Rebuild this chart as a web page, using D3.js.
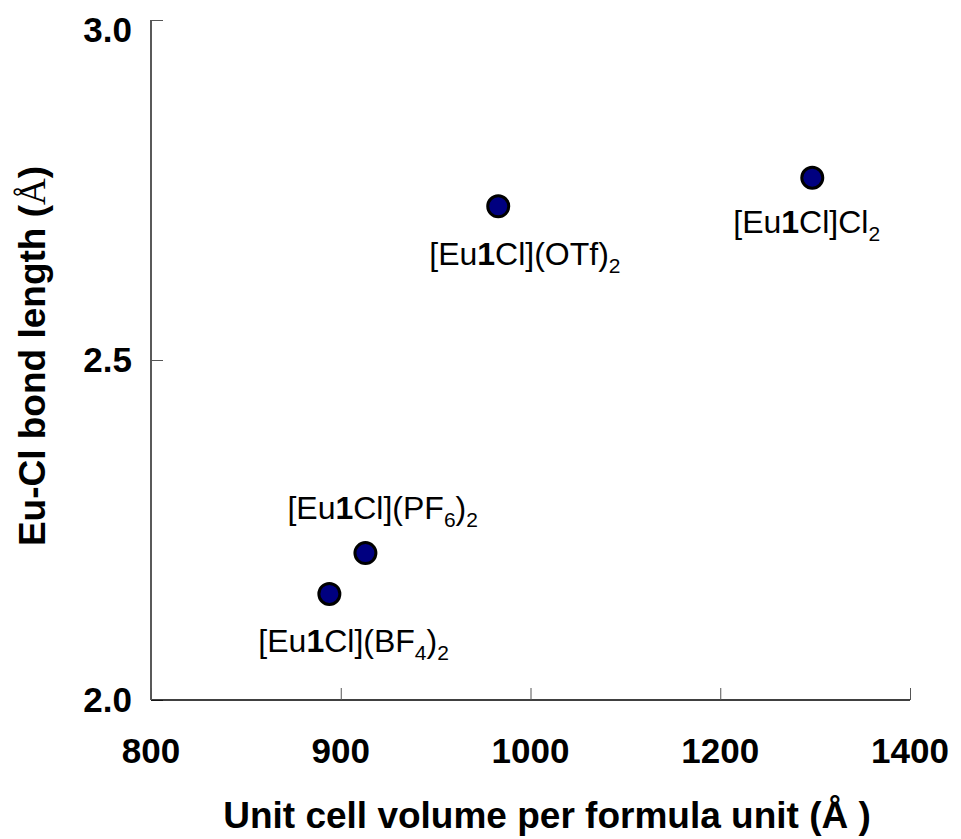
<!DOCTYPE html>
<html>
<head>
<meta charset="utf-8">
<script src="https://cdn.jsdelivr.net/npm/d3@7"></script>
<style>
  body { margin: 0; background: #fff; }
  text { font-family: Arial, "Liberation Sans", sans-serif; }
</style>
</head>
<body>
<svg id="chart" width="961" height="839"></svg>
<script>
// values
const volumes = [894, 913, 983, 1297];
const bondLengths = [2.156, 2.216, 2.726, 2.768];
// label pieces: "" normal, "b" bold, "s" subscript
const labels = [
  [["[Eu", ""], ["1", "b"], ["Cl](BF", ""], ["4", "s"], [")", ""], ["2", "s"]],
  [["[Eu", ""], ["1", "b"], ["Cl](PF", ""], ["6", "s"], [")", ""], ["2", "s"]],
  [["[Eu", ""], ["1", "b"], ["Cl](OTf)", ""], ["2", "s"]],
  [["[Eu", ""], ["1", "b"], ["Cl]Cl", ""], ["2", "s"]]
];
const xTicks = [800, 900, 1000, 1200, 1400];
const yTicks = [2.0, 2.5, 3.0];

// where each label sits relative to its point (layout only)
const labelOffset = [[-71, 58], [-78, -34], [-69, 59], [-79, 55]];

const svg = d3.select("#chart");
const mLeft = 151, mRight = 910, mTop = 20, mBottom = 700;

// the axis is drawn with evenly spaced ticks even though the steps differ
let x = d3.scaleLinear()
  .domain(xTicks)
  .range(xTicks.map((d, i) => mLeft + i * (mRight - mLeft) / (xTicks.length - 1)));
let y = d3.scaleLinear().domain([2.0, 3.0]).range([mBottom, mTop]);

// y axis
svg.append("g")
  .attr("transform", `translate(${mLeft},0)`)
  .call(d3.axisRight(y).tickValues(yTicks).tickSize(12).tickFormat(""))
  .call(g => g.select(".domain").attr("d", `M0,${mTop}V${mBottom}`).attr("stroke-width", 1.3))
  .call(g => g.selectAll(".tick line").attr("stroke", "#555"));

// x axis
svg.append("g")
  .attr("transform", `translate(0,${mBottom})`)
  .call(d3.axisTop(x).tickValues(xTicks).tickSize(12).tickFormat(""))
  .call(g => g.select(".domain").attr("d", `M${mLeft},0H${mRight}`).attr("stroke-width", 1.3))
  .call(g => g.selectAll(".tick line").attr("stroke", "#555"));

svg.append("g").selectAll("text")
  .data(yTicks)
  .join("text")
  .attr("x", 132)
  .attr("y", d => Math.max(y(d) + 12, 42))
  .attr("text-anchor", "end")
  .attr("font-size", 35)
  .attr("font-weight", "bold")
  .text(d => d.toFixed(1));

svg.append("g").selectAll("text")
  .data(xTicks)
  .join("text")
  .attr("x", d => x(d))
  .attr("y", 763)
  .attr("text-anchor", "middle")
  .attr("font-size", 35)
  .attr("font-weight", "bold")
  .text(d => d);

// axis titles
let xt = svg.append("text")
  .attr("x", 547).attr("y", 828)
  .attr("text-anchor", "middle")
  .attr("font-size", 37)
  .attr("font-weight", "bold");
xt.text("Unit cell volume per formula unit (Å )");

let yt = svg.append("text")
  .attr("transform", "translate(45,356) rotate(-90)")
  .attr("text-anchor", "middle")
  .attr("font-size", 37)
  .attr("font-weight", "bold");
yt.append("tspan").text("Eu-Cl bond length (");
yt.append("tspan").attr("font-family", "'Liberation Serif', serif").attr("font-weight", "normal").text("Å");
yt.append("tspan").text(")");

// points
const pts = volumes.map((v, i) => ({v: v, b: bondLengths[i], lab: labels[i], off: labelOffset[i]}));

svg.append("g").selectAll("circle")
  .data(pts)
  .join("circle")
  .attr("cx", d => x(d.v))
  .attr("cy", d => y(d.b))
  .attr("r", 10.5)
  .attr("fill", "#000080")
  .attr("stroke", "#000")
  .attr("stroke-width", 3);

// labels
svg.append("g").selectAll("text")
  .data(pts)
  .join("text")
  .attr("x", d => x(d.v) + d.off[0])
  .attr("y", d => y(d.b) + d.off[1])
  .attr("font-size", 32)
  .each(function(d) {
    let t = d3.select(this);
    let shifted = false;
    d.lab.forEach(p => {
      let s = t.append("tspan").text(p[0]);
      if (p[1] === "b") s.attr("font-weight", "bold");
      if (p[1] === "s") {
        s.attr("font-size", 21);
        if (!shifted) { s.attr("dy", 8); shifted = true; }
      } else if (shifted) {
        s.attr("dy", -8); shifted = false;
      }
    });
  });
</script>
</body>
</html>
